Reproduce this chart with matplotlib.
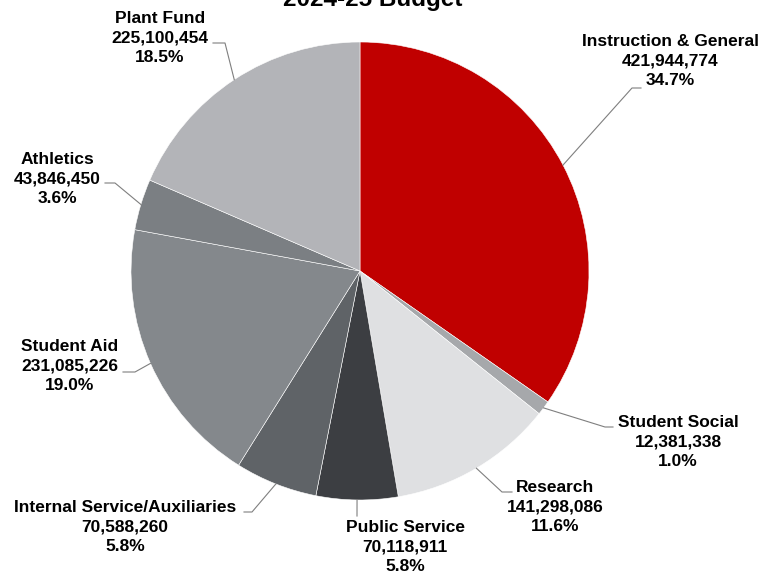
import numpy as np
import matplotlib
matplotlib.use("Agg")
import matplotlib.pyplot as plt

plt.rcParams['font.family'] = ['Liberation Sans', 'DejaVu Sans']

categories = ["Instruction & General", "Student Social", "Research", "Public Service",
              "Internal Service/Auxiliaries", "Student Aid", "Athletics", "Plant Fund"]
amounts = [421944774, 12381338, 141298086, 70118911, 70588260, 231085226, 43846450, 225100454]
percents = [34.7, 1.0, 11.6, 5.8, 5.8, 19.0, 3.6, 18.5]
colors = ["#C00000", "#A6A8AB", "#DFE0E2", "#3C3E42", "#5F6367", "#84888C", "#7B7F83", "#B3B4B8"]

# label layout in pixels: text block centre, elbow point, end of leader
label_pos = [(670, 61), (678, 442), (555, 507), (405, 547), (125, 527), (70, 366), (57, 179), (160, 38)]
elbows = [(632, 88), (605, 427), (502, 492), (357, 516), (252, 512), (135, 372), (115, 183), (225, 43)]
ends = [(641, 88), (613, 427), (512, 492), (357, 516), (244, 512), (123, 372), (105, 183), (213, 43)]

W, H = 761, 576
cx, cy, R = 360, 271, 229

fig = plt.figure(figsize=(W / 100, H / 100), dpi=100)
ax = fig.add_axes([(cx - R) / W, (H - cy - R) / H, 2 * R / W, 2 * R / H])

wedges, _ = ax.pie(amounts, colors=colors, startangle=90, counterclock=False, radius=1,
                   wedgeprops=dict(edgecolor='white', linewidth=0.4))
ax.set_xlim(-1, 1)
ax.set_ylim(-1, 1)
ax.set_aspect('equal')
ax.axis('off')


def to_data(px, py):
    return (px - cx) / R, (cy - py) / R


for w, name, amt, pct, lp, el, en in zip(wedges, categories, amounts, percents, label_pos, elbows, ends):
    mid = np.deg2rad((w.theta1 + w.theta2) / 2)
    sx, sy = np.cos(mid), np.sin(mid)
    ex, ey = to_data(*el)
    nx, ny = to_data(*en)
    ax.plot([sx, ex, nx], [sy, ey, ny], color="#7F7F7F", lw=0.8, clip_on=False)
    tx, ty = to_data(*lp)
    ax.text(tx, ty, f"{name}\n{amt:,}\n{pct:.1f}%", ha='center', va='center',
            fontsize=12.5, fontweight='bold', linespacing=1.35, clip_on=False)

fig.text(373 / W, 1 - 6 / H, "2024-25 Budget", ha='center', va='baseline',
         fontsize=17.5, fontweight='bold')

fig.savefig("out.png", dpi=100)
